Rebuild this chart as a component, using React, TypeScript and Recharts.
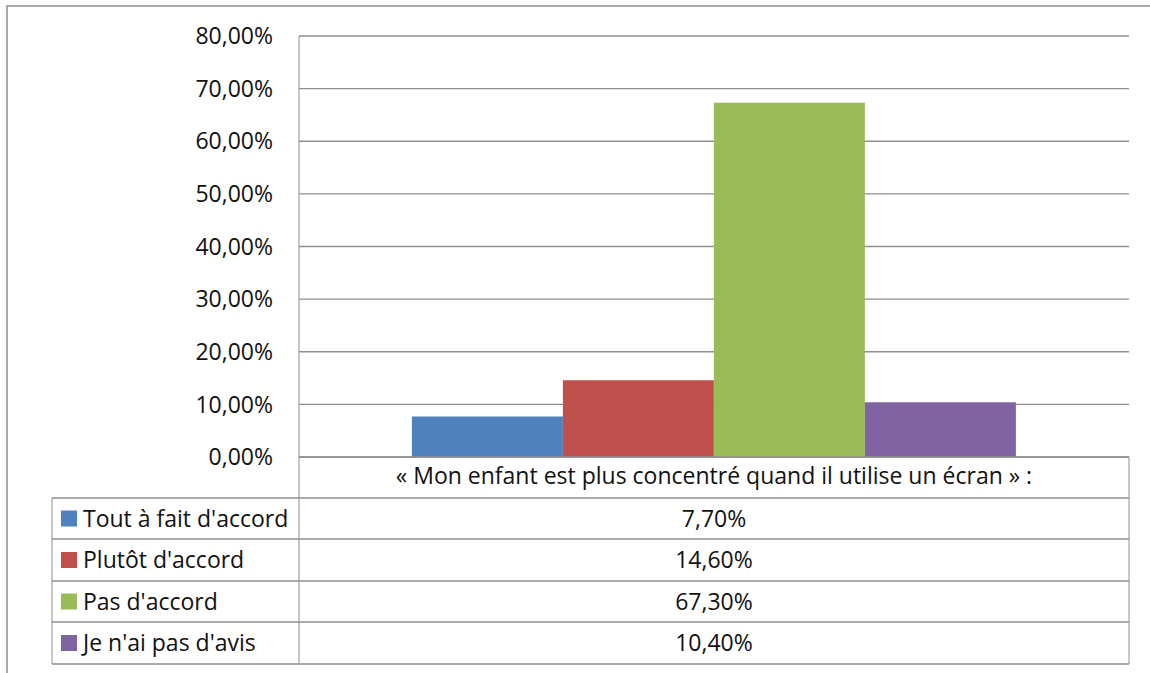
import { BarChart, Bar, XAxis, YAxis, CartesianGrid } from 'recharts'

const categories = ['« Mon enfant est plus concentré quand il utilise un écran » :']
const seriesNames = ["Tout à fait d'accord", "Plutôt d'accord", "Pas d'accord", "Je n'ai pas d'avis"]
const seriesValues = [7.7, 14.6, 67.3, 10.4]
const seriesColors = ['#4F81BD', '#C0504D', '#9BBB59', '#8064A2']
const yTicks = [0, 10, 20, 30, 40, 50, 60, 70, 80]

const data = categories.map((category) => {
  const row: Record<string, string | number> = { category }
  seriesNames.forEach((name, i) => {
    row[name] = seriesValues[i]
  })
  return row
})

const pct = (v: number) => v.toFixed(2).replace('.', ',') + '%'

const FONT = '"Open Sans", Calibri, sans-serif'
const FS = 23
const TXT = '#111'
const LINE = '#8f8f8f'

// layout of the plot / data table
const plotLeft = 299
const plotRight = 1129
const plotTop = 36
const plotBottom = 457
const tableLeft = 52
const rowTops = [498, 539, 581, 622, 664]

function DataTable() {
  const midX = (plotLeft + plotRight) / 2
  return (
    <svg
      width={1150}
      height={673}
      style={{ position: 'absolute', left: 0, top: 0, pointerEvents: 'none', zIndex: 5 }}
    >
      {/* outer chart frame */}
      <rect x={7} y={6} width={1200} height={700} fill="none" stroke={LINE} strokeWidth={1.5} />
      {/* header row verticals */}
      <line x1={plotLeft} y1={plotBottom} x2={plotLeft} y2={rowTops[0]} stroke={LINE} />
      <line x1={plotRight} y1={plotBottom} x2={plotRight} y2={rowTops[rowTops.length - 1]} stroke={LINE} />
      {rowTops.map((y) => (
        <line key={y} x1={tableLeft} y1={y} x2={plotRight} y2={y} stroke={LINE} strokeWidth={1.3} />
      ))}
      <line x1={tableLeft} y1={rowTops[0]} x2={tableLeft} y2={rowTops[rowTops.length - 1]} stroke={LINE} />
      <line x1={plotLeft} y1={rowTops[0]} x2={plotLeft} y2={rowTops[rowTops.length - 1]} stroke={LINE} />
      {seriesNames.map((name, i) => {
        const y0 = rowTops[i]
        const yc = (y0 + rowTops[i + 1]) / 2
        return (
          <g key={name}>
            <rect x={61} y={yc - 8} width={16} height={16} fill={seriesColors[i]} />
            <text x={83} y={yc} dy="0.35em" fontSize={FS} fontFamily={FONT} fill={TXT}>
              {name}
            </text>
            <text x={midX} y={yc} dy="0.35em" fontSize={FS} fontFamily={FONT} fill={TXT} textAnchor="middle">
              {pct(seriesValues[i])}
            </text>
          </g>
        )
      })}
    </svg>
  )
}

export default function App() {
  return (
    <div style={{ position: 'fixed', left: 0, top: 0, width: 1150, height: 673, overflow: 'hidden', background: '#fff' }}>
      <BarChart
        width={1150}
        height={673}
        data={data}
        margin={{ top: plotTop, right: 1150 - plotRight, left: plotLeft - 80, bottom: 673 - plotBottom - 40 }}
        barCategoryGap="13.6%"
        barGap={0}
      >
        <CartesianGrid vertical={false} stroke={LINE} strokeWidth={1.3} />
        <YAxis
          width={80}
          domain={[0, 80]}
          ticks={yTicks}
          tickFormatter={pct}
          tickLine={false}
          tickSize={0}
          tickMargin={26}
          axisLine={{ stroke: LINE }}
          tick={{ fill: TXT, fontSize: FS, fontFamily: FONT }}
          interval={0}
        />
        <XAxis
          dataKey="category"
          height={40}
          tickLine={false}
          tickSize={0}
          tickMargin={11}
          axisLine={{ stroke: LINE, strokeWidth: 1.3 }}
          tick={{ fill: TXT, fontSize: FS, fontFamily: FONT }}
        />
        {seriesNames.map((name, i) => (
          <Bar key={name} dataKey={name} fill={seriesColors[i]} isAnimationActive={false} />
        ))}
      </BarChart>
      <DataTable />
    </div>
  )
}
